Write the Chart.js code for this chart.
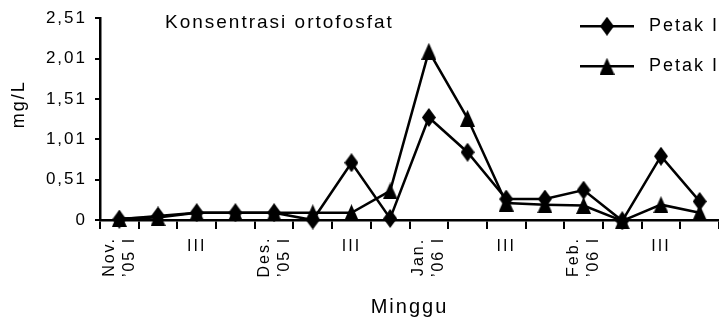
<!DOCTYPE html>
<html>
<head>
<meta charset="utf-8">
<script src="https://cdn.jsdelivr.net/npm/chart.js@4/dist/chart.umd.min.js"></script>
<style>
  html, body { margin: 0; padding: 0; background: #fff; }
  #Chart { display: block; }
</style>
</head>
<body>
<canvas id="Chart" width="719" height="322"></canvas>
<script>
// weeks I-IV of each month, Nov 2005 - Feb 2006
const Weeks = [
  "Nov. ’05 I", "II", "III", "IV",
  "Des. ’05 I", "II", "III", "IV",
  "Jan. ’06 I", "II", "III", "IV",
  "Feb. ’06 I", "II", "III", "IV",
];
const PetakI = [0.02, 0.06, 0.1, 0.1, 0.1, 0.01, 0.72, 0.03, 1.28, 0.85, 0.27, 0.27, 0.38, 0.0, 0.8, 0.24];
const PetakII = [0.03, 0.04, 0.1, 0.1, 0.1, 0.1, 0.1, 0.37, 2.1, 1.27, 0.22, 0.2, 0.19, 0.0, 0.2, 0.1];
const SeriesNames = ["Petak I", "Petak II"];
const YTickLabels = ["0", "0,51", "1,01", "1,51", "2,01", "2,51"];
const ChartTitle = "Konsentrasi ortofosfat";
const YTitle = "mg/L";
const XTitle = "Minggu";

const FontFamily = "'Liberation Sans', Arial, sans-serif";
const Spacing = "2px";

function MakeMarker(Kind) {
  const C = document.createElement("canvas");
  const Ctx = C.getContext("2d");
  if (Kind === "diamond") {
    C.width = 14; C.height = 19;
    Ctx.beginPath();
    Ctx.moveTo(7, 0); Ctx.lineTo(14, 9.5); Ctx.lineTo(7, 19); Ctx.lineTo(0, 9.5);
  } else {
    C.width = 15; C.height = 17;
    Ctx.beginPath();
    Ctx.moveTo(7.5, 0); Ctx.lineTo(15, 17); Ctx.lineTo(0, 17);
  }
  Ctx.closePath();
  Ctx.fillStyle = "#000";
  Ctx.fill();
  return C;
}

const Diamond = MakeMarker("diamond");
const Triangle = MakeMarker("triangle");

const SpacingPlugin = {
  id: "spacing",
  beforeUpdate(chart) { chart.ctx.letterSpacing = Spacing; },
  beforeDraw(chart) { chart.ctx.letterSpacing = Spacing; },
};

// title inside the plot, legend top right, y title, rotated month labels
const OverlayPlugin = {
  id: "overlay",
  afterDraw(chart) {
    const { ctx, chartArea } = chart;
    const X = chart.scales.x;
    ctx.save();
    ctx.letterSpacing = Spacing;
    ctx.fillStyle = "#000";
    ctx.textBaseline = "middle";
    ctx.textAlign = "left";
    ctx.font = `19px ${FontFamily}`;
    ctx.fillText(ChartTitle, chartArea.left + 65, chartArea.top + 5);

    ctx.font = `18px ${FontFamily}`;
    chart.data.datasets.forEach((Ds, i) => {
      const Lx = chartArea.right - 139;
      const Ly = chartArea.top + 8 + i * 40;
      ctx.strokeStyle = "#000";
      ctx.lineWidth = 2.5;
      ctx.beginPath();
      ctx.moveTo(Lx, Ly);
      ctx.lineTo(Lx + 54, Ly);
      ctx.stroke();
      const M = Ds.pointStyle;
      ctx.drawImage(M, Lx + 27 - M.width / 2, Ly - M.height / 2);
      ctx.fillText(Ds.label, Lx + 69, Ly);
    });

    ctx.save();
    ctx.translate(19, chartArea.top + 86);
    ctx.rotate(-Math.PI / 2);
    ctx.textAlign = "center";
    ctx.fillText(YTitle, 0, 0);
    ctx.restore();

    ctx.font = `16px ${FontFamily}`;
    ctx.textAlign = "center";
    Weeks.forEach((W, i) => {
      if (i % 4 !== 0) return;
      const Cut = W.indexOf(" ");
      const Lines = [W.slice(0, Cut), W.slice(Cut + 1)];
      ctx.save();
      ctx.translate(X.getPixelForValue(i), X.top + 37);
      ctx.rotate(-Math.PI / 2);
      Lines.forEach((L, j) => ctx.fillText(L, 0, (j - 0.5) * 20));
      ctx.restore();
    });
    ctx.restore();
  },
};

const Config = {
  type: "line",
  data: {
    labels: Weeks,
    datasets: [
      {
        label: SeriesNames[0],
        data: PetakI,
        borderColor: "#000",
        borderWidth: 2.5,
        pointStyle: Diamond,
        clip: false,
      },
      {
        label: SeriesNames[1],
        data: PetakII,
        borderColor: "#000",
        borderWidth: 2.5,
        pointStyle: Triangle,
        clip: false,
      },
    ],
  },
  options: {
    responsive: false,
    animation: false,
    devicePixelRatio: 1,
    layout: { autoPadding: false, padding: { top: 15, left: 0, right: 0, bottom: 0 } },
    plugins: {
      legend: { display: false },
      tooltip: { enabled: false },
    },
    scales: {
      x: {
        offset: true,
        border: { color: "#000", width: 2.5 },
        grid: { offset: true, drawOnChartArea: false, tickLength: 9, color: "#000", lineWidth: 2 },
        ticks: {
          autoSkip: false,
          maxRotation: 0,
          minRotation: 0,
          padding: 8,
          color: "#000",
          font: { family: FontFamily, size: 16 },
          callback: (V, i) => (i % 4 === 2 ? Weeks[i] : ""),
        },
        title: {
          display: true,
          text: XTitle,
          color: "#000",
          font: { family: FontFamily, size: 20 },
          padding: { top: 0, bottom: 3 },
        },
        afterFit(Scale) {
          Scale.height = 102;
          Scale.paddingLeft = 0;
          Scale.paddingRight = 0;
        },
      },
      y: {
        min: 0.01,
        max: 2.51,
        border: { color: "#000", width: 2.5 },
        grid: { drawOnChartArea: false, tickLength: 5, color: "#000", lineWidth: 2 },
        ticks: {
          stepSize: 0.5,
          padding: 8,
          color: "#000",
          font: { family: FontFamily, size: 17 },
          callback: (V, i) => YTickLabels[i],
        },
        afterFit(Scale) { Scale.width = 100; },
      },
    },
  },
  plugins: [SpacingPlugin, OverlayPlugin],
};

new Chart(document.getElementById("Chart"), Config);
</script>
</body>
</html>
